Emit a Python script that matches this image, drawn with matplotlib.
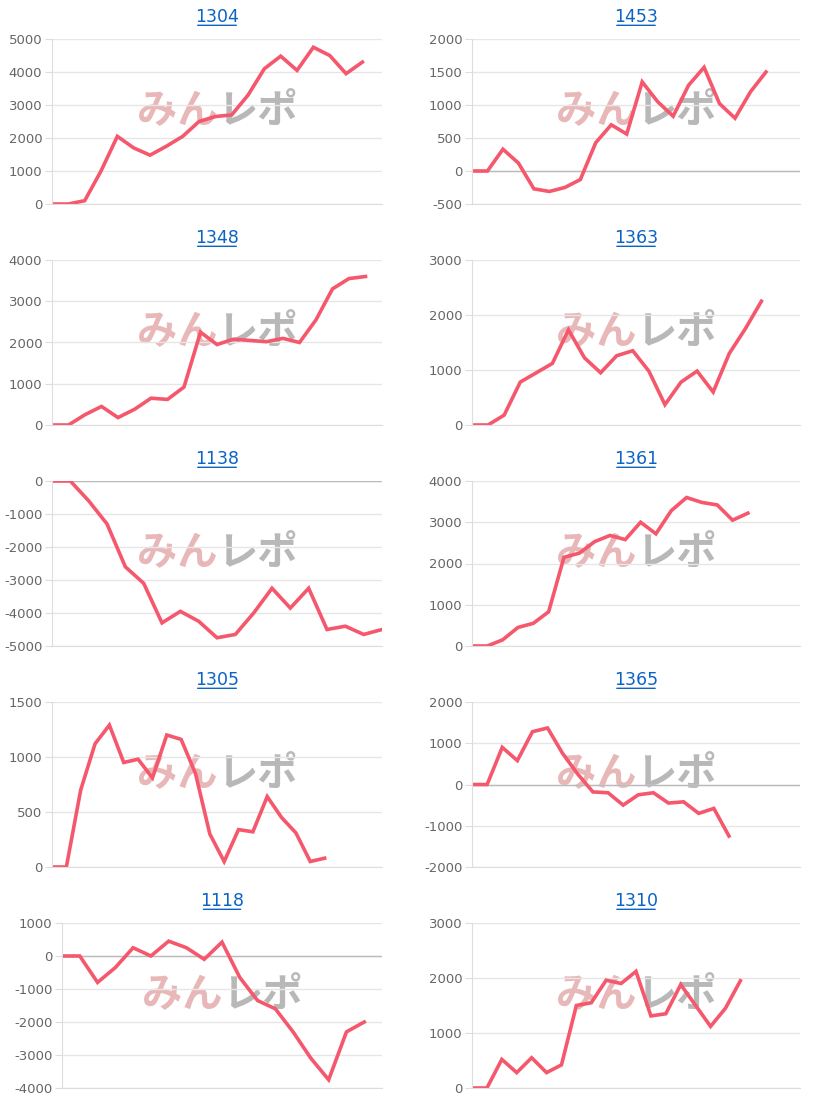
import matplotlib
matplotlib.use("Agg")
import matplotlib.pyplot as plt
from matplotlib.ticker import MultipleLocator

plt.rcParams["axes.unicode_minus"] = False

titles = ["1304", "1453", "1348", "1363", "1138", "1361", "1305", "1365", "1118", "1310"]
v1304 = [0, 0, 100, 1000, 2050, 1700, 1480, 1750, 2050, 2500, 2650, 2700, 3300, 4100, 4480, 4050, 4750, 4500, 3950, 4300]
v1453 = [0, 0, 330, 120, -270, -310, -250, -130, 430, 700, 560, 1350, 1050, 830, 1300, 1570, 1020, 800, 1200, 1500]
v1348 = [0, 0, 250, 450, 180, 380, 650, 620, 920, 2250, 1950, 2080, 2050, 2020, 2100, 2000, 2550, 3300, 3550, 3600]
v1363 = [0, 0, 180, 780, 950, 1120, 1730, 1220, 950, 1260, 1350, 980, 370, 780, 980, 600, 1300, 1750, 2250]
v1138 = [0, 0, -600, -1300, -2600, -3100, -4300, -3950, -4250, -4750, -4650, -4000, -3250, -3850, -3250, -4500, -4400, -4650, -4500]
v1361 = [0, 0, 150, 450, 550, 830, 2150, 2250, 2530, 2680, 2580, 3000, 2720, 3280, 3600, 3480, 3420, 3050, 3220]
v1305 = [0, 0, 700, 1120, 1290, 950, 980, 810, 1200, 1160, 850, 300, 50, 340, 320, 640, 450, 310, 50, 80]
v1365 = [0, 0, 900, 580, 1280, 1370, 750, 250, -180, -200, -500, -250, -200, -450, -420, -700, -580, -1250]
v1118 = [0, 0, -800, -350, 250, 0, 450, 250, -100, 420, -650, -1350, -1600, -2300, -3100, -3750, -2300, -2000]
v1310 = [0, 0, 520, 280, 550, 280, 420, 1500, 1550, 1960, 1900, 2120, 1310, 1350, 1880, 1500, 1120, 1450, 1950]
series = [v1304, v1453, v1348, v1363, v1138, v1361, v1305, v1365, v1118, v1310]

xmax = [20.2, 21.2, 20, 20.4, 18, 21.4, 23, 21.7, 18, 22]
ylims = [(0, 5000), (-500, 2000), (0, 4000), (0, 3000), (-5000, 0), (0, 4000), (0, 1500), (-2000, 2000), (-4000, 1000), (0, 3000)]
steps = [1000, 500, 1000, 1000, 1000, 1000, 500, 1000, 1000, 1000]

W, H = 830, 1105
fig = plt.figure(figsize=(8.3, 11.05), dpi=100)
for i in range(10):
    row, col = divmod(i, 2)
    left = 472 if col else (62 if i == 8 else 52)
    right = 800 if col else 382
    top = 39 + 221 * row
    bottom = top + 165
    ax = fig.add_axes([left / W, 1 - bottom / H, (right - left) / W, (bottom - top) / H])
    ax.plot(range(len(series[i])), series[i], color="#f5576c", lw=2.6, solid_joinstyle="miter")
    ax.set_xlim(0, xmax[i])
    ax.set_ylim(*ylims[i])
    ax.yaxis.set_major_locator(MultipleLocator(steps[i]))
    ax.set_xticks([])
    ax.grid(axis="y", color="#e6e6e6", lw=1)
    ax.set_axisbelow(True)
    for s in ["top", "right"]:
        ax.spines[s].set_visible(False)
    for s in ["left", "bottom"]:
        ax.spines[s].set_color("#dddddd")
    if ylims[i][0] < 0:
        ax.axhline(0, color="#bbbbbb", lw=1, zorder=1)
    ax.tick_params(axis="y", colors="#666666", labelsize=9.5, length=5, pad=2, color="#dddddd")
    ax.set_title(titles[i], color="#0b63c4", fontsize=12.5, pad=12)
    ax.annotate("", xy=(0.5 - 0.067, 1.083), xytext=(0.5 + 0.067, 1.083), xycoords="axes fraction",
                arrowprops=dict(arrowstyle="-", color="#0b63c4", lw=1))
    ax.text(0.5, 0.56, "みん", transform=ax.transAxes, ha="right", va="center",
            fontsize=29, fontweight="bold", style="italic", color="#e8b8b8",
            family=["Noto Sans CJK JP", "DejaVu Sans"], zorder=0)
    ax.text(0.5, 0.56, "レポ", transform=ax.transAxes, ha="left", va="center",
            fontsize=29, fontweight="bold", style="italic", color="#b8b8b8",
            family=["Noto Sans CJK JP", "DejaVu Sans"], zorder=0)

fig.savefig("out.png", dpi=100)
